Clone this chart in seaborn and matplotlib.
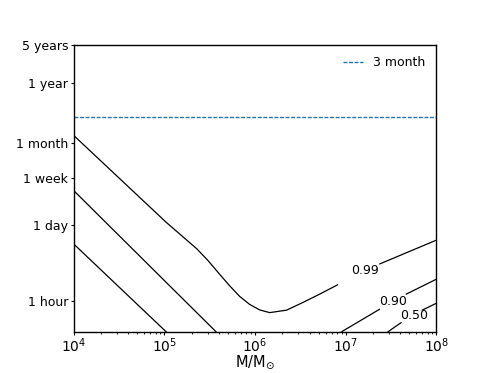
import numpy as np
import pandas as pd
import matplotlib
matplotlib.use("Agg")
import matplotlib.pyplot as plt
import seaborn as sns

# 等高線の読み取り値 (質量 M/Msun, 時間 [秒])
m_099_a = [1.0e4, 1.05e5, 2.27e5, 3.0e5, 4.06e5, 5.24e5, 6.75e5, 8.69e5,
           1.12e6, 1.445e6, 2.22e6, 3.34e6, 5.14e6, 8.11e6]
t_099_a = [3.6e6, 9.6e4, 3.21e4, 1.99e4, 1.11e4, 6.84e3, 4.41e3, 3.16e3,
           2.51e3, 2.24e3, 2.48e3, 3.40e3, 4.83e3, 7.13e3]
m_099_b = [2.36e7, 1.0e8]
t_099_b = [1.7e4, 4.6e4]

m_090_a = [1.0e4, 1.05e5, 3.73e5]
t_090_a = [3.62e5, 7.85e3, 1.0e3]
m_090_b = [8.9e6, 2.36e7]
t_090_b = [1.0e3, 2.58e3]
m_090_c = [4.63e7, 1.0e8]
t_090_c = [4.83e3, 9.04e3]

m_050_a = [1.0e4, 1.05e5]
t_050_a = [3.91e4, 1.0e3]
m_050_b = [2.9e7, 4.08e7]
t_050_b = [1.0e3, 1.48e3]
m_050_c = [6.95e7, 1.0e8]
t_050_c = [2.48e3, 3.32e3]

label_text = ["0.99", "0.90", "0.50"]
label_m = [1.61e7, 3.36e7, 5.73e7]
label_t = [1.28e4, 3.55e3, 2.01e3]

# y軸の目盛り (秒)
hour = 3600
day = 86400
week = 7 * day
month = 30 * day
year = 365 * day
ytick_vals = [hour, day, week, month, year, 5 * year]
ytick_labels = ["1 hour", "1 day", "1 week", "1 month", "1 year", "5 years"]
three_month = 3 * month


def build_segments():
    segs = [
        (m_099_a, t_099_a), (m_099_b, t_099_b),
        (m_090_a, t_090_a), (m_090_b, t_090_b), (m_090_c, t_090_c),
        (m_050_a, t_050_a), (m_050_b, t_050_b), (m_050_c, t_050_c),
    ]
    rows = []
    for i, (ms, ts) in enumerate(segs):
        for j, (m, t) in enumerate(zip(ms, ts)):
            rows.append({"M": m, "t": t, "seg": i, "order": j})
    return pd.DataFrame(rows)


sns.set_style("ticks", rc={
    "text.color": "black", "axes.labelcolor": "black",
    "xtick.color": "black", "ytick.color": "black",
    "axes.edgecolor": "black",
})
plt.rcParams["font.family"] = ["DejaVu Sans"]
plt.rcParams.update({
    "font.size": 9,
    "xtick.labelsize": 10,
    "axes.labelsize": 10.5,
    "xtick.major.size": 2.5, "ytick.major.size": 2.5,
    "xtick.minor.size": 1.5, "xtick.major.pad": 0.5, "ytick.major.pad": 1.5,
    "axes.labelpad": -1,
})

fig, ax = plt.subplots(figsize=(4.85, 3.73), dpi=100)
fig.subplots_adjust(left=0.152, right=0.9, top=0.88, bottom=0.11)

df = build_segments()
sns.lineplot(data=df, x="M", y="t", units="seg", estimator=None, sort=False,
             color="black", lw=0.9, ax=ax, legend=False)

ax.axhline(three_month, ls="--", dashes=(2.8, 1.2), color="C0", lw=1,
           label="3 month")

for txt, m, t in zip(label_text, label_m, label_t):
    ax.text(m, t, txt, ha="center", va="center", fontsize=9)

ax.set_xscale("log")
ax.set_yscale("log")
ax.set_xlim(1e4, 1e8)
ax.set_ylim(1e3, 5 * year)
ax.set_yticks(ytick_vals)
ax.set_yticklabels(ytick_labels)
ax.yaxis.set_minor_locator(matplotlib.ticker.NullLocator())
ax.set_xlabel(r"M/M$_{\odot}$")
ax.set_ylabel("")
ax.legend(loc="upper right", frameon=False, handlelength=1.6)

for s in ax.spines.values():
    s.set_linewidth(1.0)

plt.savefig("out.png", dpi=100)
